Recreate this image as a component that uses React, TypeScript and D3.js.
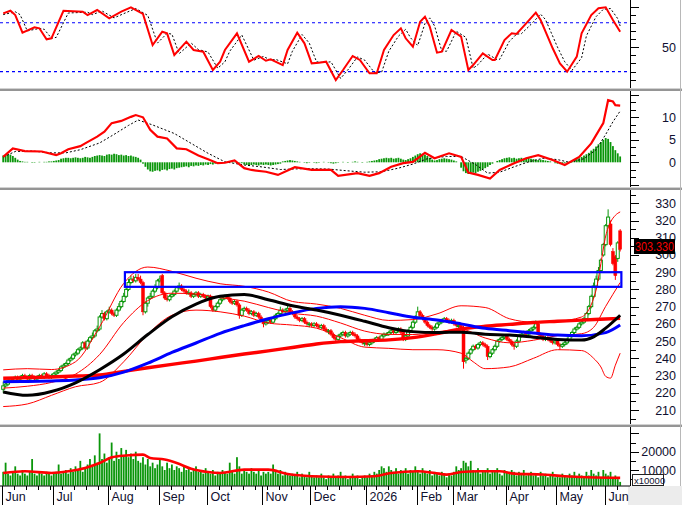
import React, { useEffect, useRef } from 'react';
import * as d3 from 'd3';

type Pt = [number, number];

// x axis
const monthLabels = ['Jun', 'Jul', 'Aug', 'Sep', 'Oct', 'Nov', 'Dec', '2026', 'Feb', 'Mar', 'Apr', 'May', 'Jun'];
const monthStarts = [0, 21, 44, 65, 85, 108, 128, 151, 172, 187, 209, 230, 250];

// daily candles
const opens = [
  222, 224, 225, 227, 228, 227, 229, 228, 229, 230,
  229, 228, 230, 229, 228, 229, 230, 229, 231, 230,
  229, 230, 231, 232, 233, 235, 236, 237, 239, 240,
  242, 243, 245, 246, 249, 246, 250, 252, 253, 256,
  257, 264, 266, 263, 267, 268, 266, 265, 268, 270,
  273, 276, 280, 284, 286, 285, 287, 286, 284, 267,
  272, 275, 276, 279, 281, 285, 288, 278, 275, 274,
  276, 277, 279, 281, 282, 280, 279, 278, 278, 276,
  277, 278, 276, 277, 276, 275, 276, 270, 268, 270,
  272, 274, 275, 276, 275, 273, 272, 273, 271, 265,
  268, 269, 268, 266, 267, 265, 266, 264, 262, 260,
  261, 262, 261, 263, 265, 266, 268, 267, 268, 269,
  267, 266, 264, 263, 262, 263, 261, 260, 260, 259,
  260, 259, 258, 259, 257, 256, 256, 254, 252, 251,
  253, 254, 255, 253, 254, 255, 254, 253, 251, 250,
  249, 249, 248, 249, 250, 251, 252, 251, 253, 254,
  254, 255, 256, 255, 256, 257, 255, 251, 253, 256,
  258, 261, 264, 267, 265, 263, 261, 259, 258, 257,
  258, 260, 261, 262, 263, 262, 261, 262, 260, 259,
  259, 258, 239, 240, 243, 245, 247, 246, 248, 249,
  248, 247, 241, 243, 245, 247, 250, 251, 252, 253,
  251, 250, 248, 247, 250, 253, 254, 255, 254, 256,
  257, 258, 260, 254, 253, 251, 252, 251, 250, 249,
  250, 248, 247, 248, 249, 251, 253, 255, 257, 258,
  260, 261, 263, 266, 270, 276, 282, 286, 291, 300,
  306, 317, 318, 302, 299, 298, 314,
];
const highs = [
  226.5, 226, 228, 229, 229, 230, 230, 230, 231, 231,
  230, 231, 231, 230, 230, 231, 231, 232, 232, 231,
  231, 232, 233, 234, 236, 237, 238, 240, 241, 243,
  244, 246, 247, 250, 250, 251, 253, 255, 257, 259,
  265, 268, 267, 268, 270, 269, 267, 269, 272, 274,
  278, 281, 286, 288, 288, 289, 289, 288, 285, 273,
  276, 278, 280, 283, 286, 288, 289, 279, 277, 277,
  278, 280, 282, 284, 283, 281, 280, 280, 279, 278,
  279, 279, 278, 278, 277, 277, 277, 271, 271, 273,
  275, 276, 277, 277, 276, 274, 274, 274, 272, 269,
  270, 270, 269, 268, 268, 267, 267, 265, 263, 262,
  263, 263, 264, 266, 267, 270, 269, 269, 271, 270,
  268, 267, 265, 264, 264, 264, 262, 261, 261, 261,
  261, 260, 260, 260, 258, 257, 257, 255, 253, 254,
  255, 256, 256, 255, 256, 256, 255, 254, 252, 251,
  250, 250, 250, 251, 252, 253, 253, 254, 255, 255,
  256, 257, 257, 257, 258, 258, 256, 254, 257, 259,
  262, 265, 270, 268, 266, 264, 262, 260, 259, 259,
  261, 262, 263, 264, 264, 263, 263, 263, 261, 260,
  260, 259, 241, 244, 246, 248, 248, 249, 250, 250,
  249, 248, 244, 246, 248, 251, 252, 253, 254, 254,
  252, 251, 249, 251, 254, 255, 256, 256, 257, 258,
  259, 262, 261, 255, 254, 253, 253, 252, 251, 251,
  251, 249, 249, 250, 252, 254, 256, 258, 259, 261,
  262, 264, 267, 271, 277, 284, 288, 293, 298, 307,
  318, 326.5, 320, 304, 300, 308, 315,
];
const lows = [
  220, 223, 224, 226, 226, 226, 227, 227, 228, 228,
  227, 227, 228, 227, 227, 228, 228, 228, 229, 228,
  228, 229, 230, 231, 232, 234, 235, 236, 238, 239,
  241, 242, 244, 245, 245, 245, 249, 251, 252, 255,
  256, 263, 262, 262, 266, 265, 264, 264, 267, 269,
  272, 275, 279, 283, 284, 284, 285, 283, 265, 266,
  270, 274, 275, 278, 280, 284, 277, 274, 273, 273,
  275, 276, 278, 280, 279, 278, 277, 277, 275, 275,
  276, 275, 275, 275, 274, 274, 269, 267, 267, 269,
  271, 273, 274, 274, 272, 271, 271, 270, 263, 264,
  267, 267, 265, 265, 264, 264, 263, 261, 258, 259,
  260, 260, 260, 262, 264, 265, 266, 266, 267, 266,
  265, 263, 262, 261, 261, 260, 259, 258, 258, 258,
  258, 257, 257, 256, 255, 254, 253, 251, 249, 250,
  252, 253, 252, 252, 253, 253, 252, 250, 249, 248,
  247, 247, 247, 248, 249, 250, 250, 250, 252, 253,
  253, 254, 254, 254, 255, 254, 250, 250, 252, 255,
  257, 260, 263, 264, 262, 260, 258, 257, 256, 256,
  257, 259, 260, 261, 261, 260, 260, 259, 258, 257,
  256, 234, 237, 239, 242, 244, 245, 245, 247, 247,
  246, 239, 240, 242, 244, 246, 249, 250, 251, 250,
  249, 247, 245, 246, 249, 252, 253, 253, 253, 255,
  256, 257, 253, 252, 250, 250, 250, 249, 248, 248,
  247, 245, 246, 247, 248, 250, 252, 254, 256, 257,
  259, 260, 262, 265, 269, 275, 281, 285, 290, 299,
  305, 316, 305, 294, 285.5, 296, 302,
];
const closes = [
  224, 225, 227, 228, 227, 229, 228, 229, 230, 229,
  228, 230, 229, 228, 229, 230, 229, 231, 230, 229,
  230, 231, 232, 233, 235, 236, 237, 239, 240, 242,
  243, 245, 246, 249, 246, 250, 252, 253, 256, 257,
  264, 266, 263, 267, 268, 266, 265, 268, 270, 273,
  276, 280, 284, 286, 285, 287, 286, 284, 267, 272,
  275, 276, 279, 281, 285, 286, 278, 275, 274, 276,
  277, 279, 281, 282, 280, 279, 278, 278, 276, 277,
  278, 276, 277, 276, 275, 276, 270, 268, 270, 272,
  274, 275, 276, 275, 273, 272, 273, 271, 265, 268,
  269, 268, 266, 267, 265, 266, 264, 262, 260, 261,
  262, 261, 263, 265, 266, 268, 267, 268, 269, 267,
  266, 264, 263, 262, 263, 261, 260, 260, 259, 260,
  259, 258, 259, 257, 256, 256, 254, 252, 251, 253,
  254, 255, 253, 254, 255, 254, 253, 251, 250, 249,
  249, 248, 249, 250, 251, 252, 251, 253, 254, 254,
  255, 256, 255, 256, 257, 255, 251, 253, 256, 258,
  261, 264, 267, 265, 263, 261, 259, 258, 257, 258,
  260, 261, 262, 263, 262, 261, 262, 260, 259, 259,
  257, 238, 240, 243, 245, 247, 246, 248, 249, 248,
  247, 241, 243, 245, 247, 250, 251, 252, 253, 251,
  250, 248, 247, 250, 253, 254, 255, 254, 256, 257,
  258, 260, 254, 253, 251, 252, 251, 250, 249, 250,
  248, 247, 248, 249, 251, 253, 255, 257, 258, 260,
  261, 263, 266, 270, 276, 282, 286, 291, 297, 306,
  317, 322, 306, 295, 288, 307, 303.33,
];
// volume in thousands
const volumes = [
  9, 14, 8, 7, 9, 12, 8, 7, 10, 8,
  7, 9, 16, 8, 7, 9, 8, 7, 9, 8,
  7, 8, 9, 13, 8, 9, 10, 8, 11, 9,
  12, 10, 15, 9, 11, 13, 16, 12, 18, 14,
  30, 16, 19, 14, 17, 25, 15, 20, 16, 22,
  18, 21, 17, 19, 16, 20, 15, 14, 17, 13,
  16, 12, 14, 11, 13, 16, 12, 10, 14, 11,
  13, 10, 12, 11, 9, 12, 10, 11, 9, 10,
  12, 9, 10, 8, 11, 9, 8, 10, 7, 9,
  8, 10, 9, 8, 14, 9, 8, 17, 12, 8,
  10, 9, 8, 11, 9, 8, 10, 7, 9, 8,
  9, 8, 13, 9, 8, 10, 7, 9, 8, 7,
  8, 7, 9, 6, 8, 7, 6, 9, 7, 6,
  7, 6, 8, 6, 5, 7, 6, 8, 6, 7,
  9, 6, 7, 5, 6, 8, 6, 7, 5, 6,
  7, 6, 8, 7, 9, 8, 10, 12, 11, 9,
  12, 10, 9, 11, 8, 10, 9, 11, 8, 10,
  9, 12, 10, 8, 11, 9, 8, 10, 7, 9,
  8, 7, 9, 8, 6, 8, 7, 9, 12, 10,
  11, 15, 14, 12, 15, 10, 9, 11, 8, 10,
  9, 11, 8, 10, 9, 11, 8, 7, 10, 9,
  8, 10, 9, 7, 9, 8, 10, 7, 8, 9,
  7, 8, 6, 9, 7, 8, 6, 7, 9, 6,
  7, 6, 8, 7, 6, 8, 7, 9, 6, 8,
  7, 6, 9, 7, 10, 8, 7, 9, 6, 10,
  8, 7, 9, 6, 7, 5, 3.5,
];
const volumeMa: Pt[] = [
  [0, 8.4], [9, 9.3], [20, 8.4], [27, 9.3], [34, 11.1], [40, 13.8], [45, 16.9], [51, 17.9],
  [58, 18.4], [61, 16.6], [67, 15.7], [72, 13.8], [78, 10.7], [85, 8.9], [90, 8.4], [100, 10.2],
  [110, 10.2], [118, 7.8], [128, 6.6], [143, 6.2], [154, 6.6], [161, 8.4], [172, 9.3], [179, 8.4],
  [184, 7.5], [190, 8.9], [197, 9.3], [206, 9.3], [212, 8], [224, 7.5], [233, 6.6], [256, 5.7],
];

// price overlays: [day, price]
const ma50: Pt[] = [
  [0, 220.5], [10, 218.5], [20, 220.7], [30, 225.8], [40, 233.4], [50, 242.5], [60, 253.8],
  [70, 264.1], [80, 271.5], [90, 276], [100, 277], [110, 274], [120, 270.5], [130, 268],
  [140, 265], [150, 261.5], [160, 257.8], [170, 255.5], [180, 255], [190, 255.2], [200, 254],
  [210, 253.5], [220, 252.3], [230, 251], [240, 250.6], [245, 252.5], [250, 257.5], [256, 265],
];
const ma100: Pt[] = [
  [0, 226.4], [10, 226.6], [20, 226.9], [30, 227.4], [40, 228.7], [50, 232], [60, 237.2],
  [70, 243.4], [80, 248.9], [90, 254.5], [100, 259], [110, 263], [120, 266.4], [130, 269],
  [140, 270], [150, 269], [160, 266.5], [170, 263.8], [180, 262.3], [190, 260], [200, 257.4],
  [210, 256], [220, 254.7], [230, 253.5], [240, 253.1], [250, 254.9], [256, 259.3],
];
const ma200: Pt[] = [
  [0, 228.4], [10, 228.8], [20, 229.2], [30, 229.7], [40, 230.3], [50, 232.4], [60, 234.5],
  [70, 236.5], [80, 238.4], [90, 240.5], [100, 242.5], [110, 244.3], [120, 246.3], [130, 248.3],
  [140, 249.7], [150, 250.2], [160, 250.7], [170, 252], [180, 254.3], [190, 257], [200, 258.6],
  [210, 259.7], [220, 260.8], [230, 261.5], [240, 262.2], [250, 262.8], [256, 263.2],
];
const bbUpper: Pt[] = [
  [0, 233.3], [10, 234], [20, 233.5], [30, 238], [40, 258.3], [50, 283.5], [60, 293], [70, 290.5],
  [80, 286.5], [90, 283.3], [100, 281.8], [110, 278.5], [120, 273], [130, 271.5], [140, 269],
  [150, 265], [160, 262], [170, 262.5], [180, 265.8], [190, 270.5], [200, 269.5], [210, 263],
  [220, 261], [230, 261.5], [240, 264], [246, 279.6], [248, 295], [250, 311], [252, 319],
  [254, 323], [256, 325],
];
const bbMiddle: Pt[] = [
  [0, 222.7], [10, 223.8], [20, 226], [30, 230.8], [40, 242.2], [50, 260.8], [60, 273.5],
  [70, 277.8], [80, 277.3], [90, 275.2], [100, 273.2], [110, 269.5], [120, 266.2], [130, 264.5],
  [140, 260.5], [150, 255.8], [160, 253.9], [170, 253.8], [180, 255.4], [190, 256.8], [200, 251.8],
  [210, 249], [220, 250.5], [230, 253.2], [240, 254.3], [245, 258], [250, 270.2], [256, 284],
];
const bbLower: Pt[] = [
  [0, 212], [10, 213.5], [20, 218.5], [30, 223.5], [40, 226], [50, 238], [60, 254], [70, 265],
  [80, 268], [90, 267], [100, 264.5], [110, 260.5], [120, 259.3], [130, 257.5], [140, 252],
  [150, 246.5], [160, 245.8], [170, 245], [180, 245], [190, 243], [195, 238], [200, 234],
  [210, 235], [220, 240], [230, 245], [240, 244.5], [245, 240], [248, 235], [250, 229.5],
  [252, 228.5], [254, 236], [256, 243],
];
// resistance zone
const zoneDays = [51, 256];
const zonePrices = [281.5, 290];

// oscillator: [day, value]
const rsiLine: Pt[] = [
  [0, 91.6], [3, 94.8], [5, 89.5], [8, 67.8], [13, 74.4], [15, 73.2], [18, 59.7], [20, 60.9],
  [25, 94.8], [33, 93.6], [35, 89.5], [39, 95.7], [44, 85.5], [49, 93.6], [53, 99], [58, 90.8],
  [62, 52.6], [66, 69], [68, 67], [71, 40.3], [76, 56.7], [79, 46.5], [83, 44.4], [87, 21.9],
  [90, 32.1], [92, 46.5], [97, 67], [102, 32.1], [106, 39.1], [109, 33.3], [111, 35], [116, 28],
  [118, 46.5], [122, 67.8], [125, 54.7], [128, 30.1], [131, 30.9], [134, 32.1], [138, 9.6],
  [141, 21.9], [145, 39.1], [148, 34.2], [152, 17.8], [155, 17.8], [158, 46.5], [162, 64.9],
  [165, 73.2], [167, 60.9], [170, 50.6], [173, 81.3], [175, 87.5], [177, 75.2], [180, 43.2],
  [182, 44.4], [186, 71.1], [190, 62.9], [193, 21.9], [195, 28], [199, 42.4], [203, 34.2],
  [204, 34.2], [208, 58.8], [211, 67], [213, 66.2], [217, 79.3], [221, 92.4], [223, 83.4],
  [228, 48.6], [231, 30.1], [234, 19.8], [238, 38.3], [240, 67], [244, 89.5], [247, 97.8],
  [250, 99], [253, 83.4], [256, 69],
];
const rsiSignal: Pt[] = [
  [0, 90], [5, 93.5], [7, 90], [10, 70], [15, 73], [17, 72], [20, 61], [22, 62], [27, 92],
  [35, 93], [37, 90], [41, 94.5], [46, 86], [51, 92.5], [55, 97.5], [60, 89], [64, 55], [68, 67],
  [70, 66], [73, 42], [78, 55], [81, 47], [85, 44], [89, 24], [92, 32], [94, 45], [99, 65],
  [104, 34], [108, 38.5], [111, 34], [113, 35], [118, 29.5], [120, 45], [124, 65.5], [127, 55],
  [130, 32], [133, 31], [136, 32], [140, 11.5], [143, 22], [147, 38], [150, 34], [154, 19],
  [157, 19], [160, 45], [164, 63.5], [167, 72], [169, 61.5], [172, 52], [175, 79], [177, 86],
  [179, 76], [182, 45], [184, 45], [188, 69.5], [192, 62], [195, 24], [197, 28.5], [201, 41.5],
  [205, 34.5], [206, 35], [210, 57], [213, 66], [215, 66.5], [219, 78], [223, 90.5], [225, 84],
  [230, 50], [233, 32], [236, 21.5], [240, 37], [242, 64], [246, 87.5], [249, 96.5], [252, 97.5],
  [255, 85], [256, 76],
];

// MACD: [day, value]
const macdLine: Pt[] = [
  [0, 1.2], [4, 3.1], [9, 2.5], [16, 2.4], [22, 1.6], [24, 2], [27, 2.9], [32, 3.6], [34, 4.2],
  [39, 5.7], [42, 6.8], [45, 8.7], [49, 9.2], [53, 10.1], [55, 10.5], [58, 10], [61, 7.2],
  [64, 5.7], [68, 5.3], [72, 3.1], [76, 2.9], [81, 1.5], [85, 0.7], [89, -0.2], [92, -0.1],
  [96, 0.4], [100, -1.3], [103, -1.7], [109, -2.1], [114, -2.8], [121, -1.1], [128, -1.7],
  [136, -1.7], [139, -3], [147, -2.4], [152, -3], [156, -2.4], [161, -1], [166, -0.2],
  [170, 0.1], [175, 2.1], [179, 0.9], [185, 2], [190, 1.2], [193, -2.3], [197, -2.8],
  [202, -3.6], [206, -1.7], [212, -0.2], [217, 0.9], [222, 1.6], [228, 0.5], [233, -0.6],
  [239, 1.2], [244, 4.2], [249, 8.7], [251, 13.8], [253, 13.5], [254, 12.7], [256, 12.6],
];
const macdSignal: Pt[] = [
  [0, 1.2], [5, 2.4], [12, 2.5], [20, 2.1], [26, 2.1], [32, 2.8], [40, 4.3], [46, 6.2],
  [52, 8.2], [56, 9.4], [62, 8.3], [71, 6.4], [78, 4.2], [85, 2.0], [92, 0.1], [100, -0.6],
  [107, -1.0], [115, -1.6], [125, -1.4], [135, -1.5], [143, -1.9], [150, -2.2], [157, -2.1],
  [164, -1.3], [170, -0.4], [176, 0.8], [184, 1.3], [190, 1.3], [196, -0.5], [201, -2.4],
  [206, -2.2], [212, -1.0], [218, 0.1], [224, 0.9], [230, 0.6], [235, 0.0], [241, 0.8],
  [246, 2.8], [250, 6.2], [253, 9.0], [256, 11.4],
];
const macdHist = [
  1.5, 1.6, 1.8, 1.7, 1.4, 1.0, 0.6,
  0.3, 0.2, 0.1, 0.1, 0.0, -0.1, -0.1, 0.0, 0.1, 0.0, 0.1, 0.1, 0.2, 0.2, 0.3, 0.4, 0.5,
  0.8, 0.9, 1.0, 1.0, 0.9, 1.0, 1.1, 1.0, 0.9, 1.0, 1.2, 1.1, 1.0, 1.2,
  1.4, 1.5, 1.6, 1.5, 1.4, 1.7, 1.8, 1.7, 1.9, 1.8, 1.6, 1.7, 1.5, 1.6, 1.4, 1.5, 1.3, 1.2, 1.0, 0.6,
  -0.3, -1.0, -1.6, -2.0, -2.1, -1.9, -1.8, -2.0, -1.7, -1.6, -1.8, -1.5, -1.4, -1.6, -1.3, -1.2, -1.1,
  -1.0, -0.9, -1.1, -0.8, -0.9, -0.7, -0.8, -0.6, -0.7, -0.5, -0.6, -0.4, -0.5, -0.3, -0.2, -0.2, -0.1,
  0.0, 0.1, 0.2, 0.1, 0.1, 0.0, -0.1, -0.2,
  -0.5, -0.6, -0.7, -0.6, -0.5, -0.6, -0.7, -0.5, -0.6, -0.5, -0.6, -0.7, -0.6, -0.5, -0.4, -0.3,
  0.2, 0.3, 0.4, 0.5, 0.4, 0.3, 0.2, 0.1, 0.0,
  -0.1, -0.2, -0.1, 0.0, -0.1, -0.2, -0.1, 0.0, 0.1, 0.0, -0.1, -0.2, -0.3, -0.2, -0.1, 0.0,
  0.1, 0.0, -0.1, 0.0, 0.1, 0.2, 0.1, 0.0, -0.1, 0.0, 0.1, 0.2, 0.3, 0.4, 0.5,
  0.7, 0.8, 0.9, 1.0, 0.9, 1.0, 0.8, 0.9, 1.0, 0.8, 0.6, 0.5, 0.7, 0.9, 1.2, 1.5,
  1.8, 2.0, 1.9, 1.7, 1.4, 1.0, 0.6,
  0.4, 0.5, 0.7, 0.8, 0.9, 0.8, 0.7, 0.6, 0.4, 0.2, 0.0,
  -1.2, -2.0, -2.4, -2.6, -2.5, -2.3, -2.4, -2.1, -1.9, -1.6, -1.3,
  -1.0, -0.6, -0.3, 0.0, 0.3, 0.5,
  0.7, 0.9, 1.0, 1.1, 0.9, 1.0, 0.8, 0.9, 1.0, 0.8, 0.9, 1.0, 0.8, 0.7,
  0.6, 0.5, 0.6, 0.5, 0.4, 0.3, 0.2, 0.0,
  -0.2, -0.3, -0.4, -0.3, -0.2, -0.1, 0.1, 0.3,
  0.5, 0.7, 0.9, 1.2, 1.5, 1.8, 2.1,
  2.6, 3.0, 3.5, 4.0, 4.5, 5.0, 5.4, 5.2,
  4.5, 3.6, 2.7, 2.0, 1.3,
];

const W = 682;
const H = 505;
const plotRight = 630;
const barStep = 2.41;
const font = 'Arial, "Liberation Sans", sans-serif';
const textColor = '#101030';
const green = '#0a960a';

const App = () => {
  const ref = useRef<SVGSVGElement>(null);

  useEffect(() => {
    const svg = d3.select(ref.current as SVGSVGElement);
    svg.selectAll('*').remove();

    const x = d3
      .scaleBand<number>()
      .domain(d3.range(closes.length))
      .range([2, 2 + closes.length * barStep]);
    const cx = (i: number) => (x(i) as number) + x.bandwidth() / 2;

    const yRsi = d3.scaleLinear().domain([0, 100]).range([87.8, 6.5]);
    const yMacd = d3.scaleLinear().domain([0, 10]).range([162.3, 117.3]);
    const yPrice = d3.scaleLinear().domain([210, 330]).range([410, 203.3]);
    const yVol = d3.scaleLinear().domain([0, 20]).range([488.3, 451.7]);

    svg.append('rect').attr('width', W).attr('height', H).attr('fill', '#fff');

    const defs = svg.append('defs');
    const addClip = (id: string, y0: number, y1: number) =>
      defs
        .append('clipPath')
        .attr('id', id)
        .append('rect')
        .attr('x', 0)
        .attr('y', y0)
        .attr('width', plotRight)
        .attr('height', y1 - y0);
    addClip('c-rsi', 0, 88);
    addClip('c-macd', 91, 187);
    addClip('c-price', 190, 424);
    addClip('c-vol', 427, 485.7);

    const lineOf = (y: d3.ScaleLinear<number, number>, curve: d3.CurveFactory = d3.curveMonotoneX) =>
      d3
        .line<Pt>()
        .x((d) => cx(d[0]))
        .y((d) => y(d[1]))
        .curve(curve);

    // RSI panel
    const rsi = svg.append('g').attr('clip-path', 'url(#c-rsi)');
    [80, 20].forEach((v) => {
      rsi
        .append('line')
        .attr('x1', 0)
        .attr('x2', plotRight)
        .attr('y1', yRsi(v))
        .attr('y2', yRsi(v))
        .attr('stroke', '#0000ff')
        .attr('stroke-width', 1.2)
        .attr('stroke-dasharray', '3,3');
    });
    rsi
      .append('path')
      .attr('d', lineOf(yRsi, d3.curveLinear)(rsiSignal))
      .attr('fill', 'none')
      .attr('stroke', '#000')
      .attr('stroke-width', 1)
      .attr('stroke-dasharray', '2,2');
    rsi
      .append('path')
      .attr('d', lineOf(yRsi, d3.curveLinear)(rsiLine))
      .attr('fill', 'none')
      .attr('stroke', '#ff0000')
      .attr('stroke-width', 2);

    // MACD panel
    const macd = svg.append('g').attr('clip-path', 'url(#c-macd)');
    macd
      .selectAll('rect.h')
      .data(macdHist)
      .enter()
      .append('rect')
      .attr('x', (_, i) => (x(i) as number) + 0.3)
      .attr('width', 1.8)
      .attr('y', (d) => Math.min(yMacd(0), yMacd(d)))
      .attr('height', (d) => Math.abs(yMacd(d) - yMacd(0)))
      .attr('fill', green);
    macd
      .append('path')
      .attr('d', lineOf(yMacd, d3.curveLinear)(macdSignal))
      .attr('fill', 'none')
      .attr('stroke', '#000')
      .attr('stroke-width', 1)
      .attr('stroke-dasharray', '2,2');
    macd
      .append('path')
      .attr('d', lineOf(yMacd, d3.curveLinear)(macdLine))
      .attr('fill', 'none')
      .attr('stroke', '#ff0000')
      .attr('stroke-width', 2.2);

    // price panel
    const price = svg.append('g').attr('clip-path', 'url(#c-price)');
    const idx = d3.range(closes.length);
    idx.forEach((i) => {
      const up = closes[i] >= opens[i];
      const col = up ? green : '#ff0000';
      price
        .append('line')
        .attr('x1', cx(i))
        .attr('x2', cx(i))
        .attr('y1', yPrice(highs[i]))
        .attr('y2', yPrice(lows[i]))
        .attr('stroke', col)
        .attr('stroke-width', 1);
      const top = yPrice(Math.max(opens[i], closes[i]));
      const h = Math.max(1, yPrice(Math.min(opens[i], closes[i])) - top);
      price
        .append('rect')
        .attr('x', cx(i) - 1.5)
        .attr('width', 3)
        .attr('y', top)
        .attr('height', h)
        .attr('fill', up ? '#fff' : '#ff0000')
        .attr('stroke', col)
        .attr('stroke-width', up ? 1 : 0.5);
    });
    [bbUpper, bbMiddle, bbLower].forEach((band) => {
      price
        .append('path')
        .attr('d', lineOf(yPrice)(band))
        .attr('fill', 'none')
        .attr('stroke', '#ff0000')
        .attr('stroke-width', 1);
    });
    const maStyles: [Pt[], string, number][] = [
      [ma200, '#ff0000', 3.4],
      [ma100, '#0000ff', 3],
      [ma50, '#000000', 3],
    ];
    maStyles.forEach(([data, color, w]) => {
      price
        .append('path')
        .attr('d', lineOf(yPrice)(data))
        .attr('fill', 'none')
        .attr('stroke', color)
        .attr('stroke-width', w);
    });
    price
      .append('rect')
      .attr('x', x(zoneDays[0]) as number)
      .attr('width', (x(zoneDays[1]) as number) + x.bandwidth() - (x(zoneDays[0]) as number))
      .attr('y', yPrice(zonePrices[1]))
      .attr('height', yPrice(zonePrices[0]) - yPrice(zonePrices[1]))
      .attr('fill', 'none')
      .attr('stroke', '#0000ff')
      .attr('stroke-width', 2.2);

    // volume panel
    const vol = svg.append('g').attr('clip-path', 'url(#c-vol)');
    vol
      .selectAll('rect.v')
      .data(volumes)
      .enter()
      .append('rect')
      .attr('x', (_, i) => (x(i) as number) + 0.3)
      .attr('width', 1.8)
      .attr('y', (d) => yVol(d))
      .attr('height', (d) => yVol(0) - yVol(d))
      .attr('fill', green);
    vol
      .append('path')
      .attr('d', lineOf(yVol)(volumeMa))
      .attr('fill', 'none')
      .attr('stroke', '#ff0000')
      .attr('stroke-width', 2.6);

    // right axes
    const axis = svg.append('g');
    axis
      .append('line')
      .attr('x1', plotRight + 0.5)
      .attr('x2', plotRight + 0.5)
      .attr('y1', 0)
      .attr('y2', 486)
      .attr('stroke', '#000');
    const tick = (y: number, long: boolean) =>
      axis
        .append('line')
        .attr('x1', plotRight)
        .attr('x2', plotRight + (long ? 9 : 6))
        .attr('y1', Math.round(y) + 0.5)
        .attr('y2', Math.round(y) + 0.5)
        .attr('stroke', '#000');
    const label = (y: number, t: string) =>
      axis
        .append('text')
        .attr('x', 676)
        .attr('y', y)
        .attr('dy', '0.36em')
        .attr('text-anchor', 'end')
        .attr('font-family', font)
        .attr('font-size', 12.5)
        .attr('fill', textColor)
        .text(t);

    d3.range(0, 101, 10).forEach((v) => tick(yRsi(v), v % 50 === 0));
    label(yRsi(50), '50');

    d3.range(-3, 10).forEach((k) => tick(yMacd((k * 5) / 3), k % 3 === 0));
    [0, 5, 10].forEach((v) => label(yMacd(v), String(v)));

    d3.range(205, 336, 5).forEach((v) => tick(yPrice(v), v % 10 === 0));
    d3.range(210, 331, 10).forEach((v) => label(yPrice(v), String(v)));

    d3.range(5, 31, 5).forEach((v) => tick(yVol(v), v % 10 === 0));
    [10, 20].forEach((v) => label(yVol(v), String(v * 1000)));

    // last price tag
    axis.append('rect').attr('x', 634).attr('y', 239).attr('width', 41).attr('height', 15).attr('fill', '#000');
    axis
      .append('text')
      .attr('x', 654.5)
      .attr('y', 246.5)
      .attr('dy', '0.36em')
      .attr('text-anchor', 'middle')
      .attr('font-family', font)
      .attr('font-size', 13)
      .attr('textLength', 39)
      .attr('lengthAdjust', 'spacingAndGlyphs')
      .attr('fill', '#ff0000')
      .text(d3.format('.3f')(closes[closes.length - 1]));

    // volume multiplier box
    axis
      .append('rect')
      .attr('x', 632.5)
      .attr('y', 474.5)
      .attr('width', 31)
      .attr('height', 11)
      .attr('fill', '#fff')
      .attr('stroke', '#222');
    axis
      .append('text')
      .attr('x', 634)
      .attr('y', 483.5)
      .attr('font-family', font)
      .attr('font-size', 9.5)
      .attr('fill', textColor)
      .text('x10000');

    // bottom x axis
    svg.append('rect').attr('x', 628).attr('y', 486).attr('width', W - 628).attr('height', H - 486).attr('fill', '#ececec');
    const xa = svg.append('g');
    xa.append('line')
      .attr('x1', 0)
      .attr('x2', plotRight)
      .attr('y1', 486)
      .attr('y2', 486)
      .attr('stroke', '#000');
    d3.range(0, closes.length, 5)
      .filter((i) => !monthStarts.includes(i))
      .forEach((i) => {
        const px = Math.round(x(i) as number) + 0.5;
        xa.append('line').attr('x1', px).attr('x2', px).attr('y1', 486).attr('y2', 490).attr('stroke', '#000');
      });
    monthStarts.forEach((i, k) => {
      const px = Math.round(x(i) as number) + 0.5;
      xa.append('line').attr('x1', px).attr('x2', px).attr('y1', 486).attr('y2', H).attr('stroke', '#000');
      xa.append('text')
        .attr('x', px + 3)
        .attr('y', 501)
        .attr('font-family', font)
        .attr('font-size', 12.5)
        .attr('fill', textColor)
        .text(monthLabels[k]);
    });

    // panel separators and right border
    [88, 187, 424].forEach((y) => {
      svg.append('rect').attr('x', 0).attr('y', y).attr('width', W).attr('height', 1).attr('fill', '#d2d2d2');
      svg.append('rect').attr('x', 0).attr('y', y + 1).attr('width', W).attr('height', 2).attr('fill', '#959595');
    });
    svg
      .append('line')
      .attr('x1', 680.5)
      .attr('x2', 680.5)
      .attr('y1', 0)
      .attr('y2', 486)
      .attr('stroke', '#b8b8b8');
  }, []);

  return <svg ref={ref} width={W} height={H} style={{ position: 'absolute', left: 0, top: 0 }} />;
};

export default App;
